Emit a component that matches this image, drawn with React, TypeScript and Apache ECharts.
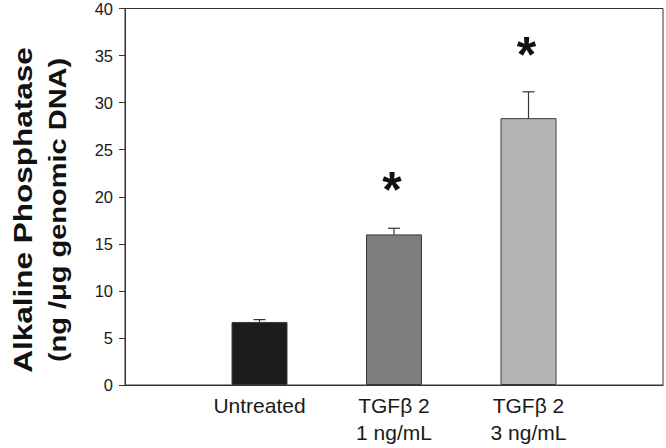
import React, { useEffect, useRef } from "react";
import * as echarts from "echarts";

const categories = ["", "Untreated", "TGFβ 2\n1 ng/mL", "TGFβ 2\n3 ng/mL", ""];
const means = [null, 6.7, 16.0, 28.35, null];
const errors = [null, 0.25, 0.65, 2.8, null];
const barColors = ["#ffffff", "#1c1c1c", "#7e7e7e", "#b5b5b5", "#ffffff"];
const significance = [null, null, 22.1, 36.5, null];
const yTicks = { min: 0, max: 40, interval: 5 };
const yTitle1 = "Alkaline Phosphatase";
const yTitle2 = "(ng /μg genomic DNA)";

export default function App() {
  const ref = useRef<HTMLDivElement>(null);
  useEffect(() => {
    if (!ref.current) return;
    const chart = echarts.init(ref.current, null, { renderer: "svg" });
    const barData = means.map((v, i) =>
      v == null
        ? null
        : {
            value: v,
            itemStyle: { color: barColors[i], borderColor: "#3a3a3a", borderWidth: 1 },
          }
    );
    const errData = means
      .map((v, i) => (v == null ? null : [i, v, v + (errors[i] as number)]))
      .filter((d) => d != null);
    const sigData = significance
      .map((v, i) => (v == null ? null : [i, v]))
      .filter((d) => d != null);
    const fontFamily = "Liberation Sans, Arial, sans-serif";
    chart.setOption({
      animation: false,
      grid: {
        left: 125,
        right: 2,
        top: 7,
        bottom: 63,
        show: true,
        borderColor: "#333",
        borderWidth: 1,
        containLabel: false,
      },
      xAxis: {
        type: "category",
        data: categories,
        boundaryGap: false,
        axisLine: { lineStyle: { color: "#333", width: 1 } },
        axisTick: { show: false },
        axisLabel: {
          interval: 0,
          color: "#1a1a1a",
          fontSize: 21,
          fontFamily,
          lineHeight: 27,
          margin: 7,
        },
        splitLine: { show: false },
      },
      yAxis: {
        type: "value",
        min: yTicks.min,
        max: yTicks.max,
        interval: yTicks.interval,
        axisLine: { show: true, lineStyle: { color: "#333", width: 1 } },
        axisTick: { show: true, length: 6, lineStyle: { color: "#333" } },
        axisLabel: { color: "#1a1a1a", fontSize: 16.5, fontFamily, margin: 12 },
        splitLine: { show: false },
      },
      series: [
        {
          type: "bar",
          data: barData,
          barWidth: 56,
          z: 2,
        },
        {
          type: "custom",
          z: 3,
          data: errData,
          renderItem: (params: any, api: any) => {
            const x = api.value(0);
            const base = api.coord([x, api.value(1)]);
            const top = api.coord([x, api.value(2)]);
            const hw = 6;
            return {
              type: "group",
              children: [
                {
                  type: "line",
                  shape: { x1: top[0], y1: base[1], x2: top[0], y2: top[1] },
                  style: { stroke: "#333", lineWidth: 1.2 },
                },
                {
                  type: "line",
                  shape: { x1: top[0] - hw, y1: top[1], x2: top[0] + hw, y2: top[1] },
                  style: { stroke: "#333", lineWidth: 1.2 },
                },
              ],
            };
          },
        },
        {
          type: "custom",
          z: 4,
          data: sigData,
          renderItem: (params: any, api: any) => {
            const p = api.coord([api.value(0), api.value(1)]);
            const fs = 50;
            return {
              type: "text",
              x: p[0] - 2,
              y: p[1] + fs * 0.27,
              style: {
                text: "*",
                fontSize: fs,
                fontWeight: "bold",
                fontFamily,
                fill: "#111",
                align: "center",
                verticalAlign: "middle",
              },
            };
          },
        },
      ],
      graphic: [
        {
          type: "text",
          x: 23.5,
          y: 210,
          rotation: Math.PI / 2,
          scaleX: 1.26,
          style: {
            text: yTitle1,
            fontSize: 25,
            fontWeight: "bold",
            fontFamily,
            fill: "#111",
            align: "center",
            verticalAlign: "middle",
          },
        },
        {
          type: "text",
          x: 58,
          y: 210,
          rotation: Math.PI / 2,
          scaleX: 1.26,
          style: {
            text: yTitle2,
            fontSize: 23,
            fontWeight: "bold",
            fontFamily,
            fill: "#111",
            align: "center",
            verticalAlign: "middle",
          },
        },
      ],
    });
    return () => chart.dispose();
  }, []);
  return (
    <div
      ref={ref}
      style={{ position: "fixed", left: 0, top: 0, width: 666, height: 448, background: "#fff" }}
    />
  );
}
